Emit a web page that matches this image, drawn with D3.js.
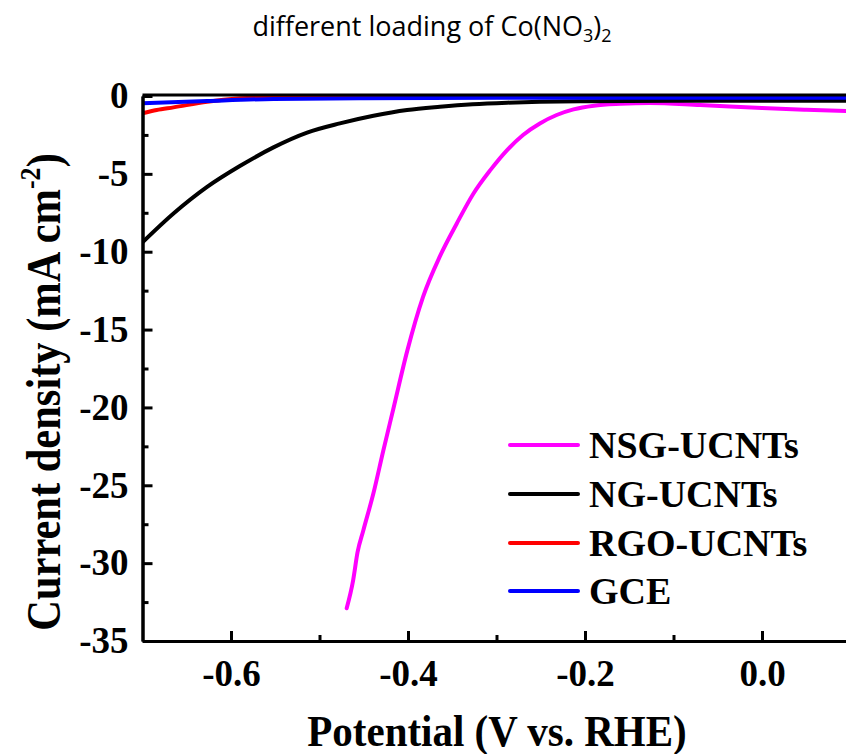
<!DOCTYPE html>
<html>
<head>
  <meta charset="utf-8">
  <title>different loading of Co(NO3)2</title>
  <script src="https://d3js.org/d3.v7.min.js"></script>
  <style>
    body { margin: 0; background: #fff; }
    svg { display: block; }
    .axis text {
      font-family: "Liberation Serif", "Times New Roman", serif;
      font-weight: bold;
      font-size: 37px;
      fill: #000;
    }
    .axis path, .axis line { stroke: #000; stroke-width: 3px; }
    .axis-title {
      font-family: "Liberation Serif", "Times New Roman", serif;
      font-weight: bold;
      font-size: 41px;
      fill: #000;
    }
    .legend text {
      font-family: "Liberation Serif", "Times New Roman", serif;
      font-weight: bold;
      font-size: 38px;
      fill: #000;
    }
    .title {
      font-family: "Open Sans", "Noto Sans", sans-serif;
      font-size: 27px;
      fill: #000;
    }
  </style>
</head>
<body>
  <div id="chart"></div>
  <script>
    // series (potential in V vs. RHE, current density in mA cm-2)
    const seriesNames = ["NSG-UCNTs", "NG-UCNTs", "RGO-UCNTs", "GCE"];
    const seriesColors = ["#ff00ff", "#000000", "#ff0000", "#0000ff"];

    const nsgPotential = [-0.4693, -0.462, -0.457, -0.4505, -0.439, -0.428, -0.4166, -0.401, -0.383, -0.364, -0.345, -0.326, -0.307, -0.288, -0.270, -0.251, -0.232, -0.213, -0.19, -0.16, -0.127, -0.07, 0.0, 0.05, 0.1];
    const nsgCurrent   = [-32.9, -31.1, -29.3, -27.9, -25.5, -22.8, -20.1, -16.4, -12.9, -10.3, -8.2, -6.26, -4.76, -3.47, -2.5, -1.76, -1.22, -0.86, -0.62, -0.5, -0.45, -0.58, -0.77, -0.88, -0.98];

    const ngPotential = [-0.7, -0.665, -0.627, -0.59, -0.552, -0.514, -0.477, -0.439, -0.401, -0.364, -0.327, -0.288, -0.251, -0.2, -0.1, 0.0, 0.1];
    const ngCurrent   = [-9.4, -7.55, -5.84, -4.5, -3.3, -2.35, -1.76, -1.27, -0.9, -0.69, -0.53, -0.43, -0.37, -0.33, -0.3, -0.3, -0.3];

    const rgoPotential = [-0.7, -0.684, -0.665, -0.627, -0.59, -0.55, -0.5, -0.3, 0.1];
    const rgoCurrent   = [-1.11, -0.9, -0.73, -0.37, -0.15, -0.06, -0.03, -0.02, -0.02];

    const gcePotential = [-0.7, -0.627, -0.552, -0.45, -0.3, 0.1];
    const gceCurrent   = [-0.47, -0.32, -0.19, -0.14, -0.12, -0.11];

    const xMajorTicks = [-0.6, -0.4, -0.2, 0.0];
    const xMinorTicks = [-0.5, -0.3, -0.1];
    const yMajorTicks = [0, -5, -10, -15, -20, -25, -30, -35];
    const yMinorTicks = [-2.5, -7.5, -12.5, -17.5, -22.5, -27.5, -32.5];

    const width = 846, height = 754;
    const plot = { left: 142.5, right: 850.5, top: 96, bottom: 641 };

    const svg = d3.select("#chart")
      .append("svg")
      .attr("width", width)
      .attr("height", height);

    const x = d3.scaleLinear().domain([-0.7, 0.1]).range([plot.left, plot.right]);
    const y = d3.scaleLinear().domain([-35, 0]).range([plot.bottom, plot.top]);

    // plain hyphen as minus sign, like the original figure
    const fmtX = d => d3.format(".1f")(d).replace("\u2212", "-");
    const fmtY = d => d3.format("d")(d).replace("\u2212", "-");

    // clip for curves
    svg.append("clipPath").attr("id", "clip")
      .append("rect")
      .attr("x", plot.left).attr("y", plot.top - 3)
      .attr("width", plot.right - plot.left).attr("height", plot.bottom - plot.top + 3);

    const series = [
      { name: seriesNames[0], color: seriesColors[0], xs: nsgPotential, ys: nsgCurrent },
      { name: seriesNames[1], color: seriesColors[1], xs: ngPotential, ys: ngCurrent },
      { name: seriesNames[2], color: seriesColors[2], xs: rgoPotential, ys: rgoCurrent },
      { name: seriesNames[3], color: seriesColors[3], xs: gcePotential, ys: gceCurrent }
    ];

    const line = d3.line()
      .x(d => x(d[0]))
      .y(d => y(d[1]))
      .curve(d3.curveMonotoneX);

    // draw order: magenta first, blue on top
    svg.append("g")
      .attr("clip-path", "url(#clip)")
      .selectAll("path")
      .data(series)
      .enter()
      .append("path")
      .attr("fill", "none")
      .attr("stroke", d => d.color)
      .attr("stroke-width", 4)
      .attr("stroke-linejoin", "round")
      .attr("stroke-linecap", "round")
      .attr("d", d => line(d.xs.map((v, i) => [v, d.ys[i]])));

    // x axis (ticks pointing inward)
    svg.append("g")
      .attr("class", "axis")
      .attr("transform", `translate(0,${plot.bottom})`)
      .call(d3.axisBottom(x).tickValues(xMajorTicks).tickSize(-10).tickSizeOuter(0)
        .tickPadding(19).tickFormat(fmtX));

    svg.append("g")
      .attr("class", "axis")
      .attr("transform", `translate(0,${plot.bottom})`)
      .call(d3.axisBottom(x).tickValues(xMinorTicks).tickSize(-6).tickSizeOuter(0).tickFormat(""));

    // y axis
    svg.append("g")
      .attr("class", "axis")
      .attr("transform", `translate(${plot.left},0)`)
      .call(d3.axisLeft(y).tickValues(yMajorTicks).tickSize(-10).tickSizeOuter(0)
        .tickPadding(14).tickFormat(fmtY));

    svg.append("g")
      .attr("class", "axis")
      .attr("transform", `translate(${plot.left},0)`)
      .call(d3.axisLeft(y).tickValues(yMinorTicks).tickSize(-6).tickSizeOuter(0).tickFormat(""));

    // top and right frame
    svg.append("line")
      .attr("x1", plot.left).attr("x2", plot.right)
      .attr("y1", plot.top - 1).attr("y2", plot.top - 1)
      .attr("stroke", "#000").attr("stroke-width", 3);
    svg.append("line")
      .attr("x1", plot.right).attr("x2", plot.right)
      .attr("y1", plot.top).attr("y2", plot.bottom)
      .attr("stroke", "#000").attr("stroke-width", 3);

    // axis titles
    svg.append("text")
      .attr("class", "axis-title")
      .attr("transform", "translate(497,746) scale(1,1.1)")
      .attr("text-anchor", "middle")
      .text("Potential (V vs. RHE)");

    const yTitle = svg.append("text")
      .attr("class", "axis-title")
      .attr("transform", "translate(60,392) rotate(-90) scale(1,1.12)")
      .attr("text-anchor", "middle")
      .style("font-size", "42.5px");
    yTitle.append("tspan").text("Current density (mA cm");
    yTitle.append("tspan").attr("dy", -18).style("font-size", "26px").text("-2");
    yTitle.append("tspan").attr("dy", 18).text(")");

    // legend
    const legend = svg.append("g").attr("class", "legend");
    const legendY = [445, 494, 543, 591];
    series.forEach((s, i) => {
      legend.append("line")
        .attr("x1", 510).attr("x2", 578)
        .attr("y1", legendY[i]).attr("y2", legendY[i])
        .attr("stroke", s.color)
        .attr("stroke-width", 4)
        .attr("stroke-linecap", "round");
      legend.append("text")
        .attr("x", 589)
        .attr("y", legendY[i] + 13)
        .text(s.name);
    });

    // chart title
    const title = svg.append("text")
      .attr("class", "title")
      .attr("x", 432)
      .attr("y", 36)
      .attr("text-anchor", "middle");
    title.append("tspan").text("different loading of Co(NO");
    title.append("tspan").attr("dy", 6).style("font-size", "18px").text("3");
    title.append("tspan").attr("dy", -6).text(")");
    title.append("tspan").attr("dy", 6).style("font-size", "18px").text("2");
  </script>
</body>
</html>
